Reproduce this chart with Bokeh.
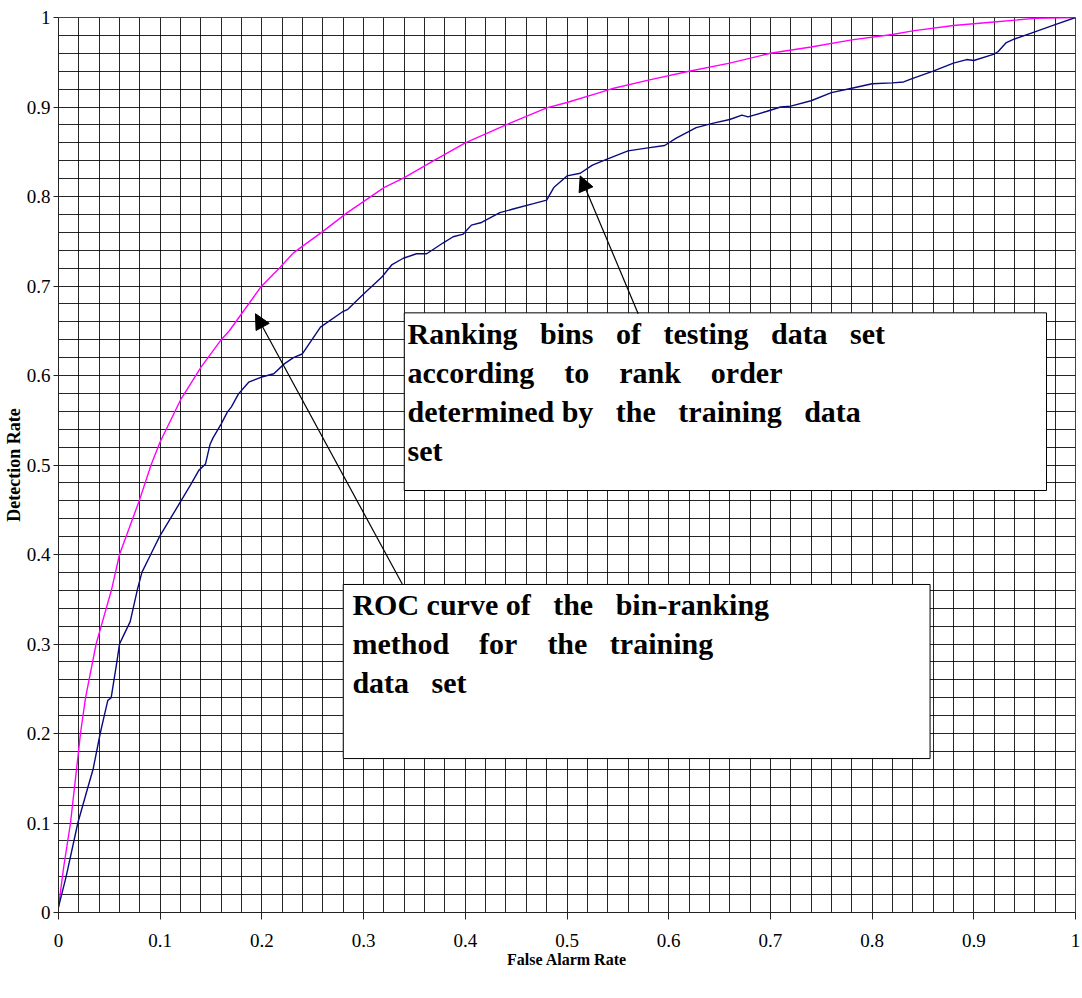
from bokeh.plotting import figure
from bokeh.models import Range1d, FixedTicker, SingleIntervalTicker, BoxAnnotation, Label, Arrow, NormalHead
from bokeh.embed import file_html
from bokeh.resources import INLINE

# ---- data ----
X_TICKS = [0, 0.1, 0.2, 0.3, 0.4, 0.5, 0.6, 0.7, 0.8, 0.9, 1.0]
X_TICK_LABELS = ["0", "0.1", "0.2", "0.3", "0.4", "0.5", "0.6", "0.7", "0.8", "0.9", "1"]
Y_TICKS = [0, 0.1, 0.2, 0.3, 0.4, 0.5, 0.6, 0.7, 0.8, 0.9, 1.0]
Y_TICK_LABELS = ["0", "0.1", "0.2", "0.3", "0.4", "0.5", "0.6", "0.7", "0.8", "0.9", "1"]

train_far = [0, 0.005, 0.0118, 0.0197, 0.0216, 0.0266, 0.037, 0.042, 0.052, 0.060, 0.0797,
             0.091, 0.1, 0.106, 0.1206, 0.14, 0.16, 0.168, 0.199, 0.218, 0.231, 0.26, 0.284,
             0.32, 0.34, 0.369, 0.40, 0.44, 0.48, 0.50, 0.532, 0.546, 0.58, 0.62, 0.66, 0.70,
             0.74, 0.78, 0.82, 0.84, 0.88, 0.92, 0.96, 1.0]
train_dr = [0.006, 0.05, 0.1, 0.18, 0.2, 0.24, 0.30, 0.32, 0.36, 0.40, 0.461,
            0.5, 0.526, 0.54, 0.574, 0.609, 0.64, 0.65, 0.699, 0.721, 0.737, 0.761, 0.782,
            0.81, 0.821, 0.84, 0.86, 0.88, 0.899, 0.905, 0.916, 0.921, 0.930, 0.94, 0.949, 0.96,
            0.967, 0.975, 0.981, 0.985, 0.991, 0.995, 0.999, 1.0]

test_far = [0, 0.0075, 0.019, 0.0289, 0.034, 0.041, 0.045, 0.0485, 0.0518, 0.0574, 0.060,
            0.0633, 0.0705, 0.0774, 0.082, 0.0915, 0.0993, 0.12, 0.13, 0.138, 0.1445, 0.149,
            0.1518, 0.16, 0.166, 0.170, 0.177, 0.187, 0.199, 0.2117, 0.222, 0.231, 0.2396,
            0.2576, 0.279, 0.2845, 0.30, 0.318, 0.328, 0.339, 0.352, 0.362, 0.378, 0.388,
            0.398, 0.406, 0.416, 0.434, 0.447, 0.467, 0.48, 0.487, 0.50, 0.513, 0.525, 0.54,
            0.56, 0.578, 0.596, 0.607, 0.627, 0.644, 0.66, 0.672, 0.678, 0.696, 0.71, 0.72,
            0.74, 0.76, 0.78, 0.80, 0.82, 0.831, 0.84, 0.86, 0.88, 0.893, 0.90, 0.92, 0.924,
            0.932, 0.94, 0.96, 0.98, 1.0]
test_dr = [0.006, 0.04, 0.10, 0.14, 0.16, 0.20, 0.22, 0.237, 0.24, 0.28, 0.30,
           0.308, 0.325, 0.36, 0.38, 0.402, 0.42, 0.459, 0.478, 0.494, 0.501, 0.523,
           0.530, 0.546, 0.559, 0.565, 0.5795, 0.5925, 0.598, 0.602, 0.613, 0.620, 0.624,
           0.654, 0.671, 0.674, 0.691, 0.71, 0.724, 0.731, 0.736, 0.736, 0.748, 0.755,
           0.758, 0.768, 0.771, 0.782, 0.786, 0.792, 0.796, 0.810, 0.823, 0.826, 0.835, 0.842,
           0.851, 0.854, 0.857, 0.865, 0.877, 0.882, 0.886, 0.891, 0.889, 0.895, 0.90, 0.901,
           0.907, 0.916, 0.921, 0.926, 0.927, 0.928, 0.932, 0.940, 0.949, 0.953, 0.952, 0.959, 0.962,
           0.972, 0.976, 0.984, 0.992, 1.0]

W = "\u00a0\u00a0 "        # wide word gap as in the original text boxes
WW = "\u00a0\u00a0\u00a0 "  # wider gap
BOX1_LINES = ["Ranking" + W + "bins" + W + "of" + W + "testing" + W + "data" + W + "set",
              "according" + WW + "to" + WW + "rank" + WW + "order",
              "determined by" + W + "the" + W + "training" + W + "data",
              "set"]
BOX2_LINES = ["ROC curve of" + W + "the" + W + "bin-ranking",
              "method" + WW + "for" + WW + "the" + W + "training",
              "data" + W + "set"]

SERIF = "Liberation Serif"

p = figure(frame_width=1017, frame_height=895, output_backend="svg", toolbar_location=None,
           x_range=Range1d(0, 1), y_range=Range1d(0, 1),
           min_border_left=58, min_border_right=5, min_border_top=17, min_border_bottom=80)
p.background_fill_color = "white"
p.border_fill_color = "white"
p.outline_line_color = "#444444"

# grid
for g in (p.xgrid, p.ygrid):
    g.ticker = SingleIntervalTicker(interval=0.02)
    g.grid_line_color = "black"
    g.grid_line_alpha = 0.85
    g.grid_line_width = 1

# axes
p.xaxis.ticker = FixedTicker(ticks=X_TICKS)
p.xaxis.major_label_overrides = {t: l for t, l in zip(X_TICKS, X_TICK_LABELS)}
p.yaxis.ticker = FixedTicker(ticks=Y_TICKS)
p.yaxis.major_label_overrides = {t: l for t, l in zip(Y_TICKS, Y_TICK_LABELS)}
for ax in (p.xaxis, p.yaxis):
    ax.axis_line_color = "#222222"
    ax.major_tick_line_color = "#222222"
    ax.minor_tick_line_color = None
    ax.major_tick_in = 0
    ax.major_label_text_font = SERIF
    ax.major_label_text_font_size = "19px"
    ax.major_label_text_color = "black"
    ax.axis_label_text_font = SERIF
    ax.axis_label_text_font_style = "bold"
    ax.axis_label_text_color = "black"
p.xaxis.major_tick_out = 7
p.xaxis.major_label_standoff = 14
p.yaxis.major_tick_out = 5
p.yaxis.major_label_standoff = 3
p.xaxis.axis_label = "False Alarm Rate"
p.xaxis.axis_label_text_font_size = "16px"
p.xaxis.axis_label_standoff = 1
p.yaxis.axis_label = "Detection Rate"
p.yaxis.axis_label_text_font_size = "18px"
p.yaxis.axis_label_standoff = 0

# curves
p.line(train_far, train_dr, line_color="#FF00FF", line_width=1.4)
p.line(test_far, test_dr, line_color="#0A0A80", line_width=1.4)

# annotation boxes
p.add_layout(BoxAnnotation(left=0.340, right=0.9715, top=0.670, bottom=0.4715,
                           fill_color="white", fill_alpha=1.0, line_color="black",
                           line_width=1, line_alpha=1.0))
p.add_layout(BoxAnnotation(left=0.280, right=0.857, top=0.3665, bottom=0.172,
                           fill_color="white", fill_alpha=1.0, line_color="black",
                           line_width=1, line_alpha=1.0))

for i, line in enumerate(BOX1_LINES):
    p.add_layout(Label(x=0.3432, y=0.6464 - i * 0.04358, text=line,
                       text_font=SERIF, text_font_style="bold", text_font_size="30px",
                       text_color="black", text_baseline="alphabetic"))
for i, line in enumerate(BOX2_LINES):
    p.add_layout(Label(x=0.289, y=0.3436 - i * 0.04358, text=line,
                       text_font=SERIF, text_font_style="bold", text_font_size="30px",
                       text_color="black", text_baseline="alphabetic"))

# arrows
p.add_layout(Arrow(end=NormalHead(size=15, fill_color="black", line_color="black"),
                   x_start=0.570, y_start=0.669, x_end=0.513, y_end=0.823,
                   line_color="black", line_width=1.2))
p.add_layout(Arrow(end=NormalHead(size=15, fill_color="black", line_color="black"),
                   x_start=0.338, y_start=0.367, x_end=0.1937, y_end=0.669,
                   line_color="black", line_width=1.2))

open("out.html", "w").write(file_html(p, INLINE))
